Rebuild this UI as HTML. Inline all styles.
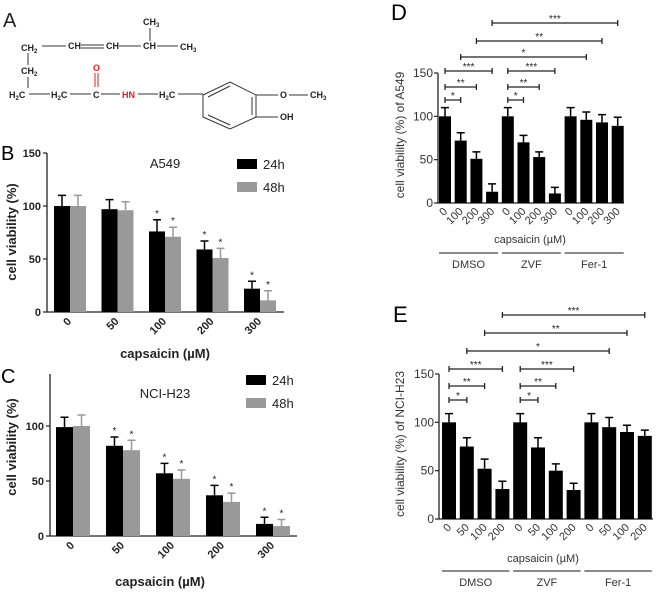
<!DOCTYPE html>
<html><head><meta charset="utf-8"><style>
body{margin:0;background:#fff;}
svg{display:block;font-family:"Liberation Sans",Arial,sans-serif;}
</style></head><body>
<svg id="fig" width="660" height="594" viewBox="0 0 660 594" xmlns="http://www.w3.org/2000/svg">
<g id="panelA" font-size="9" font-weight="bold" fill="#222" stroke="#333" stroke-width="1">
  <text x="3" y="27" font-size="20" font-weight="normal" stroke="none">A</text>
  <g stroke="none">
    <text x="143" y="25">CH<tspan font-size="6" dy="2">3</tspan></text>
    <text x="21" y="51">CH<tspan font-size="6" dy="2">2</tspan></text>
    <text x="68" y="49">CH</text>
    <text x="106" y="49">CH</text>
    <text x="143" y="49">CH</text>
    <text x="180" y="50">CH<tspan font-size="6" dy="2">3</tspan></text>
    <text x="21" y="74">CH<tspan font-size="6" dy="2">2</tspan></text>
    <text x="9" y="98">H<tspan font-size="6" dy="2">2</tspan><tspan dy="-2">C</tspan></text>
    <text x="51" y="98">H<tspan font-size="6" dy="2">2</tspan><tspan dy="-2">C</tspan></text>
    <text x="93" y="98">C</text>
    <text x="93" y="71" fill="#e02020">O</text>
    <text x="122" y="98" fill="#e02020">HN</text>
    <text x="159" y="98">H<tspan font-size="6" dy="2">2</tspan><tspan dy="-2">C</tspan></text>
    <text x="280" y="98">O</text>
    <text x="310" y="98">CH<tspan font-size="6" dy="2">3</tspan></text>
    <text x="280" y="120">OH</text>
  </g>
  <line x1="150" y1="28" x2="150" y2="41"/>
  <line x1="42" y1="46" x2="66" y2="46"/>
  <line x1="81" y1="45" x2="104" y2="45"/><line x1="81" y1="48" x2="104" y2="48"/>
  <line x1="119" y1="46" x2="141" y2="46"/>
  <line x1="157" y1="46" x2="178" y2="46"/>
  <line x1="28" y1="53" x2="28" y2="65"/>
  <line x1="28" y1="77" x2="28" y2="88"/>
  <line x1="29" y1="94" x2="50" y2="94"/>
  <line x1="70" y1="94" x2="91" y2="94"/>
  <line x1="95" y1="73" x2="95" y2="87" stroke="#e02020"/><line x1="98" y1="73" x2="98" y2="87" stroke="#e02020"/>
  <line x1="101" y1="94" x2="120" y2="94"/>
  <line x1="138" y1="94" x2="158" y2="94"/>
  <line x1="178" y1="94" x2="203" y2="94"/>
  <polygon points="203,95 230,82 256,95 256,117 230,129 203,117" fill="none"/>
  <line x1="208" y1="97" x2="230" y2="86"/><line x1="252" y1="97" x2="252" y2="115"/><line x1="208" y1="115" x2="230" y2="125"/>
  <line x1="256" y1="95" x2="278" y2="95"/>
  <line x1="289" y1="95" x2="308" y2="95"/>
  <line x1="256" y1="117" x2="278" y2="117"/>
</g>
<g id="panelB"></g>
<g id="panelC"></g>
<g id="panelD"></g>
<g id="panelE"></g>
</svg>
<script>
const NS="http://www.w3.org/2000/svg";
// Panel B data
const bCats=["0","50","100","200","300"];
const b24=[100,97,76,59,22];
const b24err=[10,9,11,8,7];
const b48=[100,96,71,51,11];
const b48err=[10,8,9,9,9];
const bSig24=[false,false,true,true,true];
const bSig48=[false,false,true,true,true];
const bTicks=[0,50,100,150];
// Panel C data
const cCats=["0","50","100","200","300"];
const c24=[99,82,57,37,11];
const c24err=[9,8,9,9,6];
const c48=[100,78,52,31,9];
const c48err=[10,9,8,8,6];
const cSig24=[false,true,true,true,true];
const cSig48=[false,true,true,true,true];
const cTicks=[0,50,100];
// Panel D data
const dCats=["0","100","200","300","0","100","200","300","0","100","200","300"];
const dVals=[100,72,51,13,100,70,53,11,100,96,93,89];
const dErr=[10,9,8,9,10,8,6,7,10,9,9,10];
const dTicks=[0,50,100,150];
const dBrackets=[[0,1,"*"],[0,2,"**"],[0,3,"***"],[4,5,"*"],[4,6,"**"],[4,7,"***"]];
const dLong=[[1,9,"*"],[2,10,"**"],[3,11,"***"]];
// Panel E data
const eCats=["0","50","100","200","0","50","100","200","0","50","100","200"];
const eVals=[100,75,52,31,100,74,50,30,100,95,90,86];
const eErr=[9,9,10,8,9,10,7,7,9,10,7,6];
const eTicks=[0,50,100,150];
const eBrackets=[[0,1,"*"],[0,2,"**"],[0,3,"***"],[4,5,"*"],[4,6,"**"],[4,7,"***"]];
const eLong=[[1,9,"*"],[2,10,"**"],[3,11,"***"]];
const groups=["DMSO","ZVF","Fer-1"];

function mk(p,tag,attrs,txt){const e=document.createElementNS(NS,tag);for(const k in attrs)e.setAttribute(k,attrs[k]);if(txt!==undefined)e.textContent=txt;p.appendChild(e);return e;}

function groupedChart(g,o){
  const y=v=>o.y0-(v)*(o.y0-o.y150)/150;
  mk(g,"text",{x:o.lx,y:o.ly,"font-size":20},o.letter);
  let ax=mk(g,"path",{d:`M${o.x0} ${o.yTop}V${o.y0}H${o.x1}`,stroke:"#222","stroke-width":1.3,fill:"none"});
  
  
  o.ticks.forEach(t=>{
    mk(g,"line",{x1:o.x0-4,x2:o.x0,y1:y(t),y2:y(t),stroke:"#222","stroke-width":1.2});
    const tl=mk(g,"text",{x:o.x0-6,y:y(t)+4,"text-anchor":"end","font-size":11,"font-weight":"bold",fill:"#222"},String(t));
    
    
  });
  o.cats.forEach((c,i)=>{
    const cx=o.gx0+i*o.pitch;
    [[o.s24,o.e24,"#000",-1,o.sig24],[o.s48,o.e48,"#999",0,o.sig48]].forEach(([s,e,col,off,sig])=>{
      const bx=cx+off*o.bw;
      const v=s[i];
      const r=mk(g,"rect",{x:bx,y:y(v),width:o.bw,height:o.y0-y(v),fill:col});
      
      
      const mx=bx+o.bw/2, top=y(v+e[i]);
      mk(g,"path",{d:`M${mx} ${y(v)}V${top}M${mx-4} ${top}H${mx+4}`,stroke:col,"stroke-width":1.5});
      if(sig[i]) mk(g,"text",{x:mx,y:top-3,"text-anchor":"middle","font-size":10,fill:"#222"},"*");
    });
    const tx=cx+2, ty=o.y0+10;
    const t=mk(g,"text",{x:tx,y:ty,"text-anchor":"end","font-size":11,"font-weight":"bold",transform:`rotate(-45 ${tx} ${ty})`,fill:"#222"},c);
    
    
  });
  const xt=mk(g,"text",{x:o.xlx,y:o.xly,"text-anchor":"middle","font-size":13,"font-weight":"bold",fill:"#222"},"capsaicin (µM)");
  
  
  const yt=mk(g,"text",{x:0,y:0,"text-anchor":"middle","font-size":13,"font-weight":"bold",fill:"#222",transform:`translate(${o.ylx} ${o.yly}) rotate(-90)`},"cell viability (%)");
  
  
  const tt=mk(g,"text",{x:o.tx,y:o.ty,"text-anchor":"middle","font-size":13,fill:"#222"},o.title);
  
  
  [["24h","#000",o.legY],["48h","#999",o.legY+23]].forEach(([l,c,ly])=>{
    const le=mk(g,"g",{});
    
    
    mk(le,"rect",{x:o.legX,y:ly,width:20,height:10,fill:c});
    mk(le,"text",{x:o.legX+26,y:ly+10,"font-size":13,fill:"#222"},l);
  });
}

groupedChart(document.getElementById("panelB"),{letter:"B",lx:1,ly:160,x0:47,x1:284,y0:312,y150:153,yTop:153,ticks:bTicks,cats:bCats,
 s24:b24,e24:b24err,s48:b48,e48:b48err,sig24:bSig24,sig48:bSig48,gx0:70,pitch:47.5,bw:16,
 xlx:165,xly:358,ylx:16,yly:232,title:"A549",tx:165,ty:168,legX:237,legY:159});
groupedChart(document.getElementById("panelC"),{letter:"C",lx:1,ly:383,x0:50,x1:297,y0:536,y150:371,yTop:374,ticks:cTicks,cats:cCats,
 s24:c24,e24:c24err,s48:c48,e48:c48err,sig24:cSig24,sig48:cSig48,gx0:73,pitch:50,bw:17,
 xlx:160,xly:586,ylx:16,yly:447,title:"NCI-H23",tx:165,ty:398,legX:246,legY:375});

function singleChart(g,o){
  const y=v=>o.y0-v*(o.y0-o.y150)/150;
  const bx=i=>o.bx0+i*o.pitch;
  mk(g,"text",{x:o.lx,y:o.ly,"font-size":22},o.letter);
  const ax=mk(g,"path",{d:`M${o.x0} ${o.y150}V${o.y0}H${o.x1}`,stroke:"#222","stroke-width":1.3,fill:"none"});
  
  
  o.ticks.forEach(t=>{
    mk(g,"line",{x1:o.x0-4,x2:o.x0,y1:y(t),y2:y(t),stroke:"#222","stroke-width":1.2});
    const tl=mk(g,"text",{x:o.x0-5,y:y(t)+4,"text-anchor":"end","font-size":12,fill:"#333"},String(t));
    
    
  });
  o.vals.forEach((v,i)=>{
    const cx=bx(i);
    const r=mk(g,"rect",{x:cx-o.bw/2,y:y(v),width:o.bw,height:o.y0-y(v),fill:"#000"});
    
    
    const top=y(v+o.err[i]);
    mk(g,"path",{d:`M${cx} ${y(v)}V${top}M${cx-4} ${top}H${cx+4}`,stroke:"#000","stroke-width":1.5});
    const tx=cx+3,ty=o.y0+9;
    const t=mk(g,"text",{x:tx,y:ty,"text-anchor":"end","font-size":11,fill:"#333",transform:`rotate(-45 ${tx} ${ty})`},o.cats[i]);
    
    
  });
  const drawBr=(a,b,lab,yy)=>{
    const br=mk(g,"g",{});
    
    
    const x1=bx(a),x2=bx(b);
    mk(br,"path",{d:`M${x1} ${yy-3}V${yy+3}M${x1} ${yy}H${x2}M${x2} ${yy-3}V${yy+3}`,stroke:"#222","stroke-width":1.3,fill:"none"});
    mk(br,"text",{x:(x1+x2)/2,y:yy-1,"text-anchor":"middle","font-size":10,fill:"#222"},lab);
  };
  o.br.forEach((b,k)=>drawBr(b[0],b[1],b[2],o.brY[k%3]));
  o.long.forEach((b,k)=>drawBr(b[0],b[1],b[2],o.longY[k]));
  const xt=mk(g,"text",{x:o.xlx,y:o.xly,"text-anchor":"middle","font-size":11,fill:"#333"},"capsaicin (µM)");
  
  
  const yt=mk(g,"text",{x:0,y:0,"text-anchor":"middle","font-size":12,fill:"#333",transform:`translate(${o.ylx} ${o.yly}) rotate(-90)`},o.ylab);
  
  
  groups.forEach((gn,k)=>{
    const a=bx(k*4)-o.bw/2,b=bx(k*4+3)+o.bw/2;
    const gg=mk(g,"g",{});
    
    
    mk(gg,"line",{x1:a,x2:b,y1:o.gy,y2:o.gy,stroke:"#444","stroke-width":1.2});
    mk(gg,"text",{x:(a+b)/2,y:o.gy+15,"text-anchor":"middle","font-size":11,fill:"#333"},gn);
  });
}
singleChart(document.getElementById("panelD"),{letter:"D",lx:391,ly:20,x0:438,x1:624,y0:203,y150:73,ticks:dTicks,cats:dCats,vals:dVals,err:dErr,
 bx0:445,pitch:15.7,bw:12,br:dBrackets,brY:[100,87,71],long:dLong,longY:[57,41,23],xlx:530,xly:243,ylx:404,yly:135,
 ylab:"cell viability (%) of A549",gy:253});
singleChart(document.getElementById("panelE"),{letter:"E",lx:393,ly:322,x0:439,x1:653,y0:519,y150:374,ticks:eTicks,cats:eCats,vals:eVals,err:eErr,
 bx0:449,pitch:17.8,bw:14,br:eBrackets,brY:[400,386,369],long:eLong,longY:[351,333,315],xlx:543,xly:562,ylx:404,yly:444,
 ylab:"cell viability (%) of NCI-H23",gy:571});
</script>
</body></html>
